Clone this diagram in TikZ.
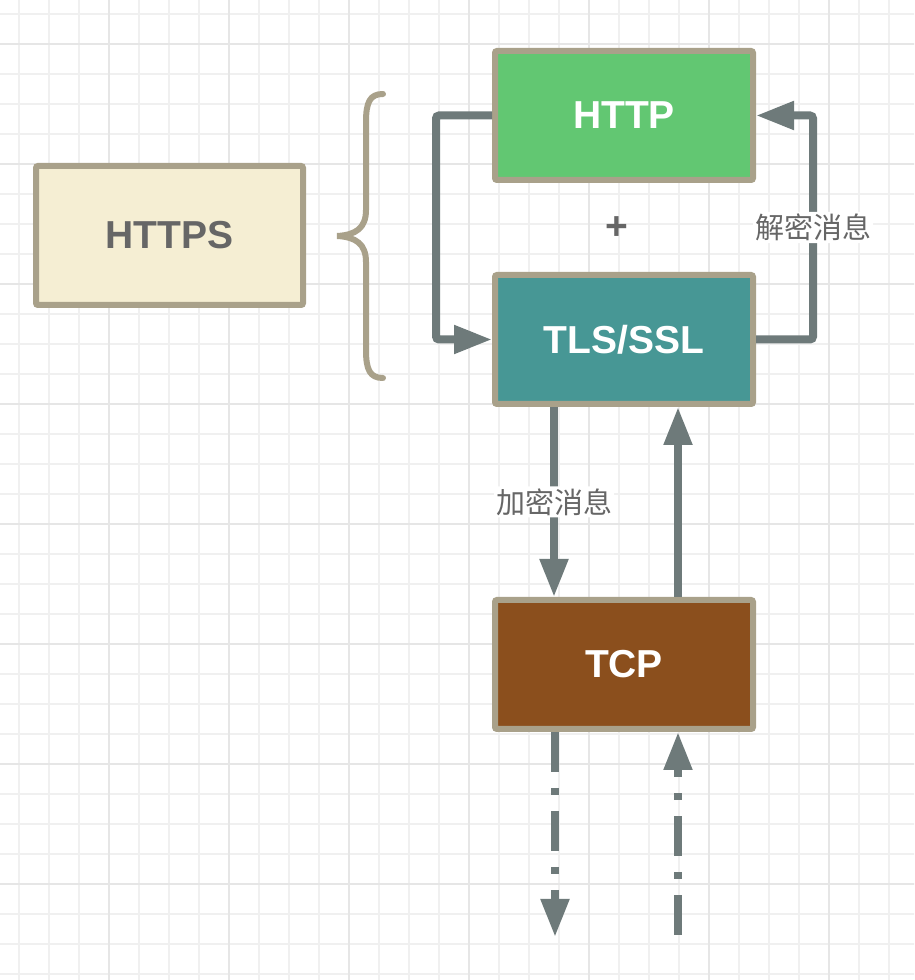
\documentclass[tikz,border=0pt]{standalone}
\usepackage{fontspec}
\setmainfont{Liberation Sans}
\newfontfamily\cjk{Noto Sans CJK SC}
\usepackage{tikz}
\usetikzlibrary{arrows.meta, positioning}

\definecolor{edge}{HTML}{A9A18A}
\definecolor{wire}{HTML}{6E7A7A}
\definecolor{ink}{HTML}{666666}
\definecolor{cream}{HTML}{F5EED3}
\definecolor{httpgreen}{HTML}{62C772}
\definecolor{tlsteal}{HTML}{479795}
\definecolor{tcpbrown}{HTML}{8B4F1D}
\definecolor{gridminor}{HTML}{F0F0F0}
\definecolor{gridmajor}{HTML}{E6E6E6}

\tikzstyle{layer} = [
  rectangle, rounded corners = 2, minimum width = 258, minimum height = 129,
  draw = edge, line width = 6, text = white, text centered,
  font = \fontsize{39}{47}\selectfont\bfseries
]
\tikzstyle{flow} = [draw = wire, line width = 8, rounded corners = 3,
  -{Triangle[length = 38pt, width = 27pt]}]
\tikzstyle{msg} = [fill = white, text = ink, inner sep = 2,
  font = \cjk\fontsize{29}{35}\selectfont]
\tikzstyle{dashdot} = [dash pattern = on 40pt off 16pt on 7pt off 16pt]

\begin{document}
\begin{tikzpicture}[x = 1pt, y = 1pt, node distance = 0]
  \useasboundingbox (0, 0) rectangle (914, 980);
  \clip (0, 0) rectangle (914, 980);
  \fill[white] (0, 0) rectangle (914, 980);
  \draw[draw = gridminor, line width = 2, step = 30, xshift = 19, yshift = 5.5]
    (-30, -30) grid (930, 990);
  \draw[draw = gridmajor, line width = 2.5, step = 120, xshift = 109, yshift = 96]
    (-120, -120) grid (1000, 1000);

  \node [layer, fill = cream, text = ink, minimum width = 267,
    minimum height = 139] (https) at (169.5, 744.5) {HTTPS};
  \node [layer, fill = httpgreen] (http) at (624, 864.5) {HTTP};
  \node [layer, fill = tlsteal, below = 89 of http] (tls) {TLS/SSL};
  \node [layer, fill = tcpbrown, below = 190 of tls] (tcp) {TCP};
  \node [text = ink, font = \fontsize{39}{47}\selectfont\bfseries]
    (plus) at (617, 752) {+};

  % brace
  \draw [draw = edge, line width = 6, line cap = round]
    (383, 886) .. controls (370, 886) and (366, 878) .. (366, 858)
    -- (366, 770) .. controls (366, 752) and (356, 745) .. (337, 744)
    .. controls (356, 743) and (366, 736) .. (366, 718)
    -- (366, 630) .. controls (366, 610) and (370, 602) .. (383, 602);

  \draw [flow] (http.west) -- ++(-56, 0) |- (tls.west);
  \draw [flow] (tls.east) -- ++(57, 0) |- node [msg, pos = 0.25] {解密消息} (http.east);
  \draw [flow] ([xshift = -70]tls.south) -- node [msg] {加密消息} ([xshift = -70]tcp.north);
  \draw [flow] ([xshift = 54]tcp.north) -- ([xshift = 54]tls.south);

  \coordinate (tcp-out) at (555, 43);
  \coordinate (tcp-in) at (678, 45);
  \draw [flow, dashdot] ([xshift = -69]tcp.south) -- (tcp-out);
  \draw [flow, dashdot] (tcp-in) -- ([xshift = 54]tcp.south);
\end{tikzpicture}
\end{document}
